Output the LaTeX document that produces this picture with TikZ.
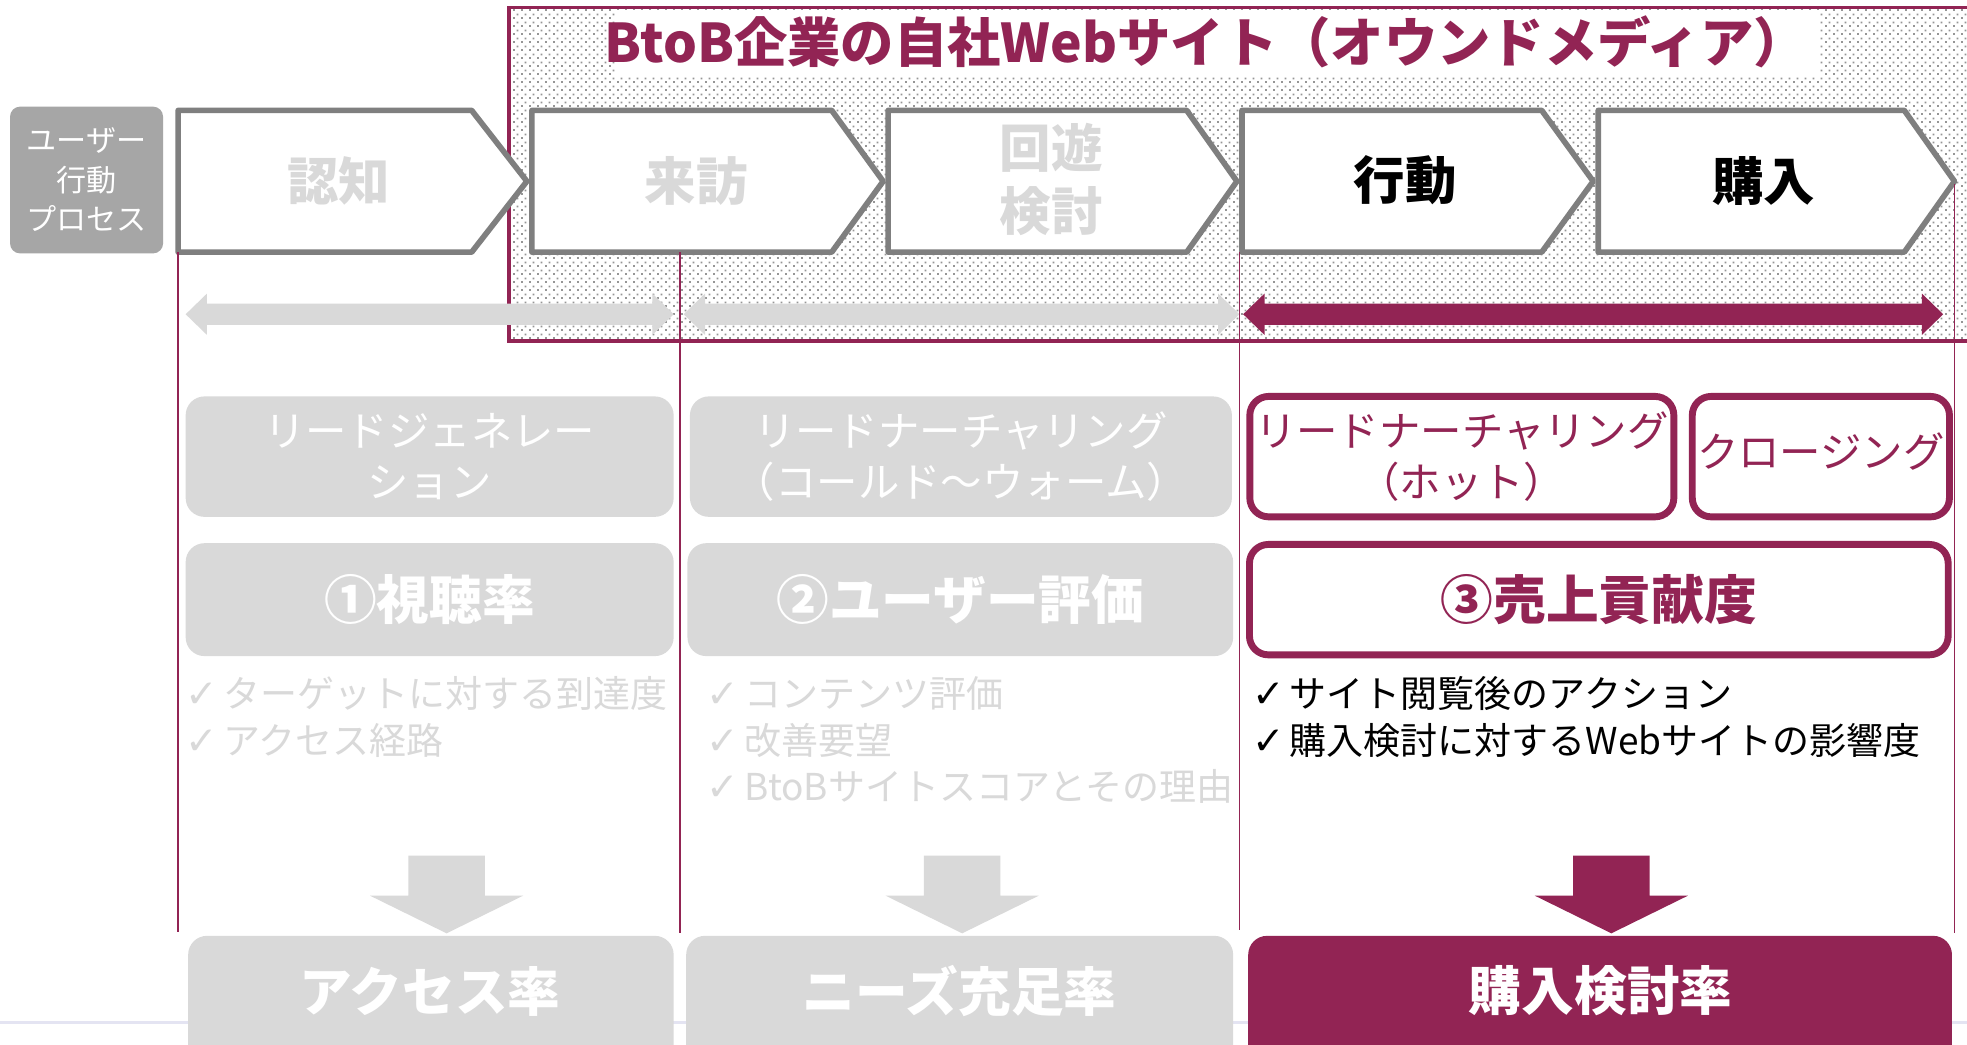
\documentclass[tikz,border=0pt]{standalone}
\usepackage{fontspec}
\setmainfont{Noto Sans CJK JP}
\newfontfamily\dejavu{DejaVu Sans}
\usetikzlibrary{patterns}
\definecolor{crim}{RGB}{146,36,84}
\definecolor{lgray}{RGB}{217,217,217}
\definecolor{mgray}{RGB}{127,127,127}
\definecolor{dgray}{RGB}{166,166,166}
\definecolor{dotgray}{RGB}{150,150,150}
\definecolor{faint}{RGB}{228,228,242}
\pgfdeclarepatternformonly{stagdots}{\pgfqpoint{0pt}{0pt}}{\pgfqpoint{6.4pt}{6.4pt}}{\pgfqpoint{6.4pt}{6.4pt}}{%
  \pgfpathrectangle{\pgfqpoint{0pt}{0pt}}{\pgfqpoint{1.6pt}{1.6pt}}%
  \pgfpathrectangle{\pgfqpoint{3.2pt}{3.2pt}}{\pgfqpoint{1.6pt}{1.6pt}}%
  \pgfusepath{fill}}
\newcommand\fsz[2]{\fontsize{#1pt}{#2pt}\selectfont}
\newcommand\ck{{\dejavu\bfseries\fontsize{31pt}{37pt}\selectfont ✓}\hspace{4pt}}
\newcommand\chevron[3]{\draw[chevbox] (#1,88) -- (#2,88) -- (#3,144.5) -- (#2,201) -- (#1,201) -- cycle;}
\newcommand\dblarrow[3]{\fill[#3] (#1,250.5) -- ({#1+17},234) -- ({#1+17},242) -- ({#2-17},242) -- ({#2-17},234) -- (#2,250.5) -- ({#2-17},267) -- ({#2-17},259) -- ({#1+17},259) -- ({#1+17},267) -- cycle;}
\newcommand\blockdown[2]{\fill[#2] ({#1-30.5},682) -- ({#1+30.5},682) -- ({#1+30.5},714) -- ({#1+61},714) -- (#1,744) -- ({#1-61},714) -- ({#1-30.5},714) -- cycle;}
\tikzset{
  chevbox/.style={draw=mgray, line width=4.5pt, fill=white, line join=round},
  chevtext/.style={font=\bfseries\fsz{41}{50}, align=center, inner sep=0pt},
  graybox/.style={fill=lgray, rounded corners=15pt, inner sep=0pt, align=center, text=white},
  crimbox/.style={draw=crim, line width=5.5pt, fill=white, rounded corners=15pt, inner sep=0pt, align=center, text=crim},
  stagetext/.style={font=\fsz{33}{40}},
  kpitext/.style={font=\bfseries\fsz{42}{50}},
  listtext/.style={font=\fsz{29.5}{37}, align=left, anchor=west, inner sep=0pt},
  sep/.style={draw=crim, line width=1.3pt},
}
\begin{document}
\begin{tikzpicture}[x=1pt,y=-1pt]
\useasboundingbox (0,0) rectangle (1568,833);
\clip (0,0) rectangle (1568,833);
\fill[white] (0,0) rectangle (1568,833);
\draw[faint, line width=2pt] (0,815) -- (1568,815);

% owned media area
\fill[white] (406,6) rectangle (1590,272);
\fill[pattern=stagdots, pattern color=dotgray] (406,6) rectangle (1590,272);
\draw[crim, line width=3pt] (406,6) rectangle (1590,272);
\fill[white] (490,8) rectangle (1450,60);
\node[text=crim, font=\bfseries\fsz{42.5}{50}, inner sep=0pt] (title) at (961,33) {BtoB企業の自社Webサイト（オウンドメディア）};

% user process label
\node[fill=dgray, rounded corners=8pt, minimum width=122pt, minimum height=117pt, inner sep=0pt, text=white, align=center, font=\fsz{24}{31.5}] (proc) at (69,143.5) {ユーザー\\行動\\プロセス};

% chevrons
\chevron{142}{376}{420}
\chevron{424}{663}{704}
\chevron{708}{946}{986}
\chevron{990}{1229}{1270}
\chevron{1274}{1518}{1558}
\node[chevtext, text=lgray] (c1) at (270,144) {認知};
\node[chevtext, text=lgray] (c2) at (555,144) {来訪};
\node[chevtext, text=lgray] (c3) at (838,143) {回遊\\検討};
\node[chevtext, text=black] (c4) at (1120,144) {行動};
\node[chevtext, text=black] (c5) at (1406,144) {購入};

% range arrows
\dblarrow{148}{537}{lgray}
\dblarrow{545}{988}{lgray}
\dblarrow{991}{1549}{crim}

% separators
\draw[sep] (142,201) -- (142,743);
\draw[sep] (542,201) -- (542,744);
\draw[sep] (988,201) -- (988,741);
\draw[sep] (1558,147) -- (1558,744);

% stage boxes
\node[graybox, stagetext, minimum width=389pt, minimum height=96pt] (s1) at (342.5,364) {リードジェネレー\\ション};
\node[graybox, stagetext, minimum width=432pt, minimum height=96pt] (s2) at (766,364) {リードナーチャリング\\（コールド～ウォーム）};
\node[crimbox, stagetext, minimum width=338pt, minimum height=96pt] (s3) at (1165.3,364) {リードナーチャリング\\（ホット）};
\node[crimbox, stagetext, minimum width=205pt, minimum height=96pt] (s4) at (1451.5,364) {};
\node[stagetext, text=crim, inner sep=0pt] (s4t) at (1451.5,360) {クロージング};

% KPI boxes
\node[graybox, kpitext, minimum width=389pt, minimum height=90pt] (k1) at (342.5,478) {①視聴率};
\node[graybox, kpitext, minimum width=435pt, minimum height=90pt] (k2) at (765.5,478) {②ユーザー評価};
\node[crimbox, kpitext, minimum width=557pt, minimum height=88pt] (k3) at (1274.5,478) {③売上貢献度};

% check lists
\node[listtext, text=lgray] (l1) at (148,571.5) {\ck ターゲットに対する到達度\\\ck アクセス経路};
\node[listtext, text=lgray] (l2) at (563,590) {\ck コンテンツ評価\\\ck 改善要望\\\ck BtoBサイトスコアとその理由};
\node[listtext, text=black] (l3) at (998,571.5) {\ck サイト閲覧後のアクション\\\ck 購入検討に対するWebサイトの影響度};

% down arrows
\blockdown{356}{lgray}
\blockdown{767}{lgray}
\blockdown{1284.5}{crim}

% result boxes
\fill[lgray, rounded corners=15pt] (150,746) rectangle (537,880);
\fill[lgray, rounded corners=15pt] (547,746) rectangle (983,880);
\fill[crim, rounded corners=15pt] (995,746) rectangle (1556,880);
\node[kpitext, text=white, inner sep=0pt] (r1) at (343,790) {アクセス率};
\node[kpitext, text=white, inner sep=0pt] (r2) at (765,790) {ニーズ充足率};
\node[kpitext, text=white, inner sep=0pt] (r3) at (1276,790) {購入検討率};
\end{tikzpicture}
\end{document}
